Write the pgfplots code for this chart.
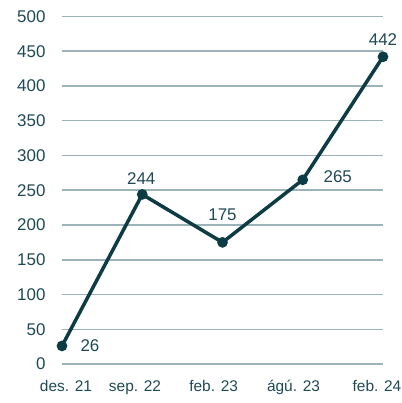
\documentclass[border=0pt]{standalone}
\usepackage{pgfplots}
\pgfplotsset{compat=1.18}
\usepackage{fontspec}
\setmainfont{Liberation Sans}
\definecolor{txt}{HTML}{1E4A55}
\definecolor{ln}{HTML}{0E3C45}
\definecolor{grd}{HTML}{9BB3B9}
\begin{document}
\begin{tikzpicture}
\path[use as bounding box] (-62bp,-39bp) rectangle (340bp,364bp);
\begin{axis}[
  scale only axis, width=321bp, height=347.5bp,
  xmin=0, xmax=4, ymin=0, ymax=500,
  axis line style={draw=none},
  major tick length=0pt,
  ytick={0,50,...,500},
  xtick={0.05,0.91,1.89,2.885,3.925},
  xticklabels={des. 21, sep. 22, feb. 23, ágú. 23, feb. 24},
  ymajorgrids, grid style={grd, line width=1.5bp},
  /pgf/number format/assume math mode=true,
  tick label style={text=txt},
  y tick label style={font=\fontsize{17}{20}\selectfont, anchor=east, xshift=-13bp},
  x tick label style={font=\fontsize{15.5}{18}\selectfont, anchor=north, yshift=-13bp},
  clip=false,
]
\addplot[ln, line width=3.5bp, mark=*, mark size=3.5bp, mark options={fill=ln, draw=ln}]
  coordinates {(0,26) (1,244) (2,175) (3,265) (4,442)};
\begin{scope}[every node/.style={text=txt, font=\fontsize{17}{20}\selectfont, inner sep=0pt}]
\node at (axis cs:0,26) [xshift=28bp] {26};
\node at (axis cs:1,244) [yshift=15.5bp, xshift=-1bp] {244};
\node at (axis cs:2,175) [yshift=28bp] {175};
\node at (axis cs:3,265) [xshift=35bp, yshift=3bp] {265};
\node at (axis cs:4,442) [yshift=17bp] {442};
\end{scope}
\end{axis}
\end{tikzpicture}
\end{document}
